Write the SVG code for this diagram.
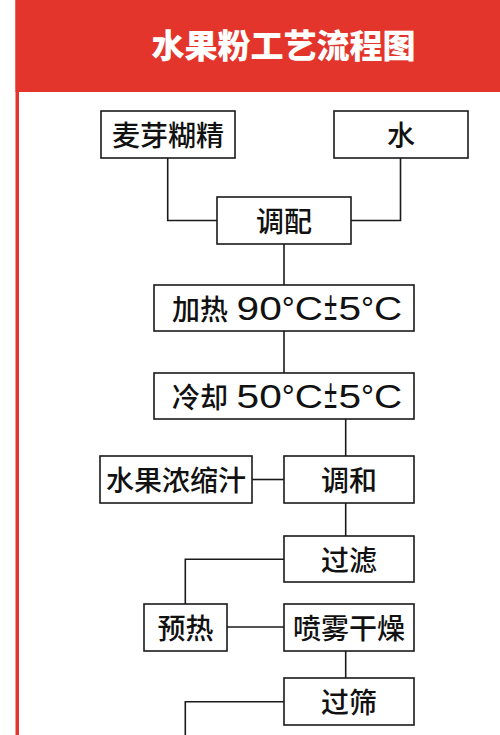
<svg xmlns="http://www.w3.org/2000/svg" width="500" height="735" viewBox="0 0 500 735">
<style>
.box{fill:#fff;stroke:#1a1a1a;stroke-width:1.6}
.t{font-family:"Noto Sans CJK SC","Liberation Sans",sans-serif;font-size:28px;font-weight:500;fill:#111;text-anchor:middle}
.ts{font-family:"Noto Sans CJK SC","Liberation Sans",sans-serif;font-size:28px;font-weight:500;fill:#111;text-anchor:start}
.lat{font-family:"Liberation Sans","Noto Sans CJK SC",sans-serif;font-size:32.5px;fill:#111;text-anchor:start}
.pm{font-family:"Liberation Sans","Noto Sans CJK SC",sans-serif;font-size:40px;fill:#111;text-anchor:start}
.c{fill:none;stroke:#1a1a1a;stroke-width:1.6}
</style>
<rect x="0" y="0" width="500" height="735" fill="#fff"/>
<rect x="15.5" y="0" width="484.5" height="92" fill="#E3352B"/>
<rect x="15.5" y="0" width="3.5" height="735" fill="#E3352B"/>
<text x="283.5" y="57.5" font-family="'Noto Sans CJK SC',sans-serif" font-size="33" font-weight="900" fill="#fff" text-anchor="middle">水果粉工艺流程图</text>
<g id="connectors">
<path class="c" d="M167.7,158 V220.5 H217"/>
<path class="c" d="M400.5,158 V220.5 H351"/>
<path class="c" d="M284,244 V285"/>
<path class="c" d="M284,331 V373"/>
<path class="c" d="M345.7,419 V456"/>
<path class="c" d="M252,479.5 H284"/>
<path class="c" d="M345.7,503 V536"/>
<path class="c" d="M284,559.3 H185.3 V604"/>
<path class="c" d="M227,627 H284"/>
<path class="c" d="M345.7,651 V678"/>
<path class="c" d="M284,701.7 H185.3 V735"/>
</g>
<g id="n1"><rect class="box" x="101" y="111" width="134" height="47"/><text class="t" x="168" y="146">麦芽糊精</text></g>
<g id="n2"><rect class="box" x="334" y="111" width="134" height="47"/><text class="t" x="401" y="146">水</text></g>
<g id="n3"><rect class="box" x="217" y="197" width="134" height="47"/><text class="t" x="284" y="232">调配</text></g>
<g id="n4"><rect class="box" x="154" y="285" width="260" height="46"/>
<text class="ts" x="172" y="319.5">加热</text>
<text class="lat" transform="translate(236.6,319.5) scale(1.25,1)">90</text>
<text class="lat" x="281.8" y="319.5">°</text>
<text class="lat" transform="translate(294.8,319.5) scale(1.2,1)">C</text>
<text class="pm" transform="translate(324.3,319.5) scale(0.58,1)">±</text>
<text class="lat" transform="translate(338.4,319.5) scale(1.25,1)">5</text>
<text class="lat" x="361" y="319.5">°</text>
<text class="lat" transform="translate(374,319.5) scale(1.2,1)">C</text>
</g>
<g id="n5"><rect class="box" x="154" y="373" width="260" height="46"/>
<text class="ts" x="172" y="407.5">冷却</text>
<text class="lat" transform="translate(236.6,407.5) scale(1.25,1)">50</text>
<text class="lat" x="281.8" y="407.5">°</text>
<text class="lat" transform="translate(294.8,407.5) scale(1.2,1)">C</text>
<text class="pm" transform="translate(324.3,407.5) scale(0.58,1)">±</text>
<text class="lat" transform="translate(338.4,407.5) scale(1.25,1)">5</text>
<text class="lat" x="361" y="407.5">°</text>
<text class="lat" transform="translate(374,407.5) scale(1.2,1)">C</text>
</g>
<g id="n6"><rect class="box" x="100" y="456" width="152" height="47"/><text class="t" x="176" y="491">水果浓缩汁</text></g>
<g id="n7"><rect class="box" x="284" y="456" width="130" height="47"/><text class="t" x="349" y="491">调和</text></g>
<g id="n8"><rect class="box" x="284" y="536" width="130" height="46"/><text class="t" x="349" y="570.5">过滤</text></g>
<g id="n9"><rect class="box" x="144" y="604" width="83" height="47"/><text class="t" x="185.5" y="639">预热</text></g>
<g id="n10"><rect class="box" x="284" y="604" width="130" height="47"/><text class="t" x="349" y="639">喷雾干燥</text></g>
<g id="n11"><rect class="box" x="284" y="678" width="130" height="47"/><text class="t" x="349" y="713">过筛</text></g>
</svg>
